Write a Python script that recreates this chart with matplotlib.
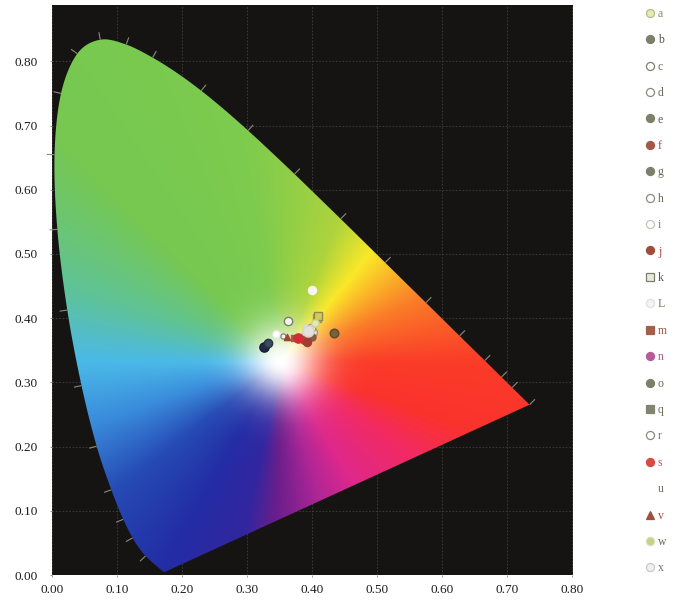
import numpy as np
import matplotlib
matplotlib.use("Agg")
import matplotlib.pyplot as plt
from matplotlib.lines import Line2D
from matplotlib.patches import Polygon

plt.rcParams['font.family'] = ['Liberation Serif', 'DejaVu Serif']

# Spectral locus (chromaticity x, y)
locus_x = [.1741,.1714,.1689,.1644,.1566,.1440,.1355,.1241,.1096,.0913,.0687,.0454,.0235,.0082,.0039,.0139,.0389,.0743,.1142,.1547,.1929,.2296,.2658,.3016,.3373,.3731,.4087,.4441,.4788,.5125,.5448,.5752,.6029,.6270,.6482,.6658,.6801,.6915,.7006,.7079,.7140,.7190,.7230,.7260,.7347]
locus_y = [.0050,.0051,.0069,.0109,.0177,.0297,.0399,.0578,.0868,.1327,.2007,.2950,.4127,.5384,.6548,.7502,.8120,.8338,.8262,.8059,.7816,.7543,.7243,.6923,.6589,.6245,.5896,.5547,.5202,.4866,.4544,.4242,.3965,.3725,.3514,.3340,.3197,.3083,.2993,.2920,.2859,.2809,.2770,.2740,.2653]
tick_index = [5,7,8,9,10,11,12,13,14,15,16,17,18,19,21,23,25,27,29,31,33,35,37,39,44]

# Colour field: hue stops around the white point
white_point = (0.352, 0.332)
stop_angle = [-20, 0, 25, 51, 68, 100, 135, 160, 180, 198, 218, 240, 258, 268, 285, 300, 324, 340]
stop_rgb = [(250,50,45),(250,60,40),(250,125,40),(250,232,40),(175,212,60),(125,203,78),(118,200,82),(95,195,150),(75,185,232),(58,140,220),(38,75,180),(35,45,165),(50,38,160),(105,30,140),(175,38,150),(222,40,140),(242,42,100),(250,50,45)]

# Points
names = ['a','b','c','d','e','f','g','h','i','j','k','L','m','n','o','q','r','s','u','v','w','x']
px = [.398,.326,.345,.363,.333,.388,.434,.400,.392,.392,.409,.394,.372,.385,.400,.407,.355,.379,.400,.361,.405,.390]
py = [.385,.355,.375,.396,.362,.366,.377,.378,.385,.363,.403,.380,.369,.367,.370,.401,.372,.369,.444,.371,.392,.376]
markers = ['o','o','o','o','o','o','o','o','o','o','s','o','s','o','o','s','o','o','o','^','o','o']
face = ['#eef0b8','#1f2a44','#ffffff','#f4f4ee','#3a4c5e','#b04a3a','#7a6238','#ece8e0','#f0ece4','#a03c34','#d8cc50','#e4e0dc','#a85a48','#b85a98','#8a5a44','#9a9a60','#f4f4ee','#d22c38','#f6f6ee','#a0442e','#e4e8a8','#eae4dc']
edge = ['#9a9c70','#141c30','#e8e8e0','#7d8068','#263444','#b04a3a','#5c4a2c','#9a9a90','#d8d4cc','#a03c34','#8a8a60','#d8d4d0','#a85a48','#b85a98','#8a5a44','#9a9a60','#8a8a80','#d22c38','#f6f6ee','#a0442e','#c8d08a','#d0ccc4']
sizes = [36,44,30,36,36,30,38,50,36,34,36,62,22,22,26,32,14,44,34,20,30,40]
legend_marker_face = ['#e6ebb4','#7d8068','#ffffff','#ffffff','#7d8068','#a5584a','#7d8068','#ffffff','#ffffff','#a04c3c','#e8e8e0','#f4f4f4','#a0604c','#b85a98','#7d8068','#808470','#ffffff','#d84a44','#ffffff','#a0503c','#c8d08a','#f0f0f0']
legend_marker_edge = ['#b4b890','#7d8068','#7d8068','#8a8a80','#7d8068','#a5584a','#7d8068','#8a8a80','#c4c4bc','#a04c3c','#7d8068','#e0e0e0','#a0604c','#b85a98','#7d8068','#808470','#8a8a80','#d84a44','#ffffff','#a0503c','#d8dcb0','#c8c8c8']
text_color = ['#8a8a5c','#55574a','#6c6c5c','#6c6c5c','#55574a','#a5503c','#66684f','#6c6c5c','#7c7c74','#a04c3c','#55574a','#6c6c5c','#a0604c','#b85a98','#66684f','#6c6e5a','#7a7a70','#d84a44','#6c7464','#a0503c','#66684f','#6c7464']

tick_vals = [0.00,0.10,0.20,0.30,0.40,0.50,0.60,0.70,0.80]

fig = plt.figure(figsize=(6.79,6.02), dpi=100, facecolor='white')
ax = fig.add_axes([52/679, 1-575/602, 521/679, 570/602])
ax.set_facecolor('#161413')
ax.set_xlim(0, 521/650)
ax.set_ylim(0, 570/642)
for s in ax.spines.values():
    s.set_visible(False)

ax.set_xticks(tick_vals)
ax.set_yticks(tick_vals)
ax.set_xticklabels([f'{v:.2f}' for v in tick_vals])
ax.set_yticklabels([f'{v:.2f}' for v in tick_vals])
ax.tick_params(length=1.5, width=0.6, color='#888888', labelsize=9.5, labelcolor='#1c1c1c')
ax.tick_params(axis='x', pad=5)
ax.tick_params(axis='y', pad=9)
ax.grid(True, color='#3a3834', lw=0.8, ls=(0,(1.5,1.5)), zorder=1)
ax.set_axisbelow(True)

# Colour field image
gx, gy = np.meshgrid(np.linspace(0, .8, 700), np.linspace(0, .89, 760))
dx, dy = gx-white_point[0], gy-white_point[1]
ang = np.degrees(np.arctan2(dy, dx))
ang = np.where(ang < -20, ang+360, ang)
r = np.hypot(dx, dy)
rgb = np.stack([np.interp(ang, stop_angle, [c[i] for c in stop_rgb]) for i in range(3)], axis=-1)/255.
w = np.exp(-(r/0.06)**2)[..., None]
rgb = rgb*(1-w)+w
im = ax.imshow(rgb, origin='lower', extent=(0,.8,0,.89), aspect='auto', interpolation='bilinear', zorder=2)
ax.set_xlim(0, 521/650)
ax.set_ylim(0, 570/642)

# Smoothed outline for clipping (Catmull-Rom through the locus points)
lx, ly = np.array(locus_x), np.array(locus_y)
P = np.column_stack([lx, ly])
Q = np.vstack([P[0], P, P[-1]])
smooth = []
for k in range(1, len(Q)-2):
    p0, p1, p2, p3 = Q[k-1], Q[k], Q[k+1], Q[k+2]
    for t in np.linspace(0, 1, 12, endpoint=False):
        smooth.append(0.5*((2*p1)+(-p0+p2)*t+(2*p0-5*p1+4*p2-p3)*t**2+(-p0+3*p1-3*p2+p3)*t**3))
smooth.append(P[-1])
poly = Polygon(np.array(smooth), closed=True, transform=ax.transData, fc='none', ec='none')
ax.add_patch(poly)
im.set_clip_path(poly)

# Wavelength ticks on the outer side of the locus
tx, ty = np.gradient(lx), np.gradient(ly)
norm = np.hypot(tx, ty)
nx, ny = ty/norm, -tx/norm
sign = np.sign(nx*(lx-white_point[0])+ny*(ly-white_point[1]))
nx, ny = nx*sign, ny*sign
for i in tick_index:
    ax.plot([lx[i]+nx[i]*.001, lx[i]+nx[i]*.011], [ly[i]+ny[i]*.001, ly[i]+ny[i]*.011],
            color='#8e8a78', lw=0.8, zorder=3, clip_on=False)

# Points
order = [15,10,7,8,0,20,21,14,12,13,5,9,11,3,2,16,19,17,6,1,4,18]
for i in order:
    ax.scatter(px[i], py[i], marker=markers[i], s=sizes[i], c=face[i], edgecolors=edge[i], linewidths=1.0, zorder=5)

# Legend
handles = [Line2D([], [], ls='none', marker=m, ms=5.8, mfc=f, mec=e, mew=0.9)
           for m, f, e in zip(markers, legend_marker_face, legend_marker_edge)]
leg = fig.legend(handles, names, loc='upper left', bbox_to_anchor=(645/679, 1-8/602), frameon=False,
                 fontsize=8.5, labelspacing=1.22, handlelength=0.9, handletextpad=0.2, borderpad=0, borderaxespad=0)
for t, c in zip(leg.get_texts(), text_color):
    t.set_color(c)

fig.savefig('out.png', dpi=100, facecolor='white')
